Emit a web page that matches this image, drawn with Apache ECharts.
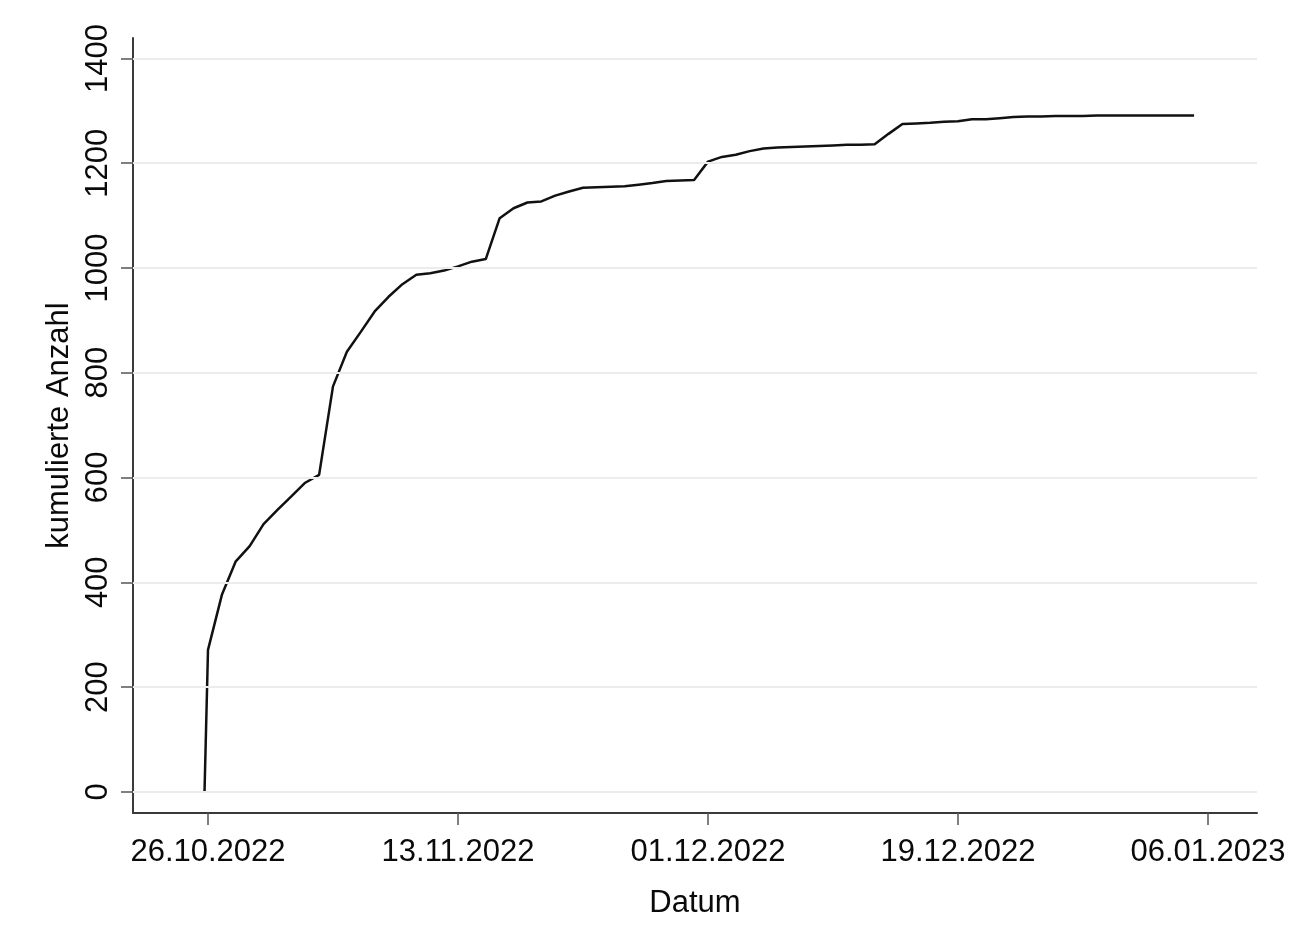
<!DOCTYPE html>
<html>
<head>
<meta charset="utf-8">
<script src="https://cdn.jsdelivr.net/npm/echarts@6/dist/echarts.min.js"></script>
<style>
html,body{margin:0;padding:0;background:#fff;}
#chart{width:1301px;height:938px;}
</style>
</head>
<body>
<div id="chart"></div>
<script>
// Dates of the observations (DD.MM.YYYY, optional HH:MM)
const dates = [
  '25.10.2022 18:00',
  '26.10.2022','27.10.2022','28.10.2022','29.10.2022','30.10.2022','31.10.2022',
  '01.11.2022','02.11.2022','03.11.2022','04.11.2022','05.11.2022','06.11.2022','07.11.2022',
  '08.11.2022','09.11.2022','10.11.2022','11.11.2022','12.11.2022','13.11.2022','14.11.2022',
  '15.11.2022','16.11.2022','17.11.2022','18.11.2022','19.11.2022','20.11.2022','21.11.2022',
  '22.11.2022','23.11.2022','24.11.2022','25.11.2022','26.11.2022','27.11.2022','28.11.2022',
  '29.11.2022','30.11.2022','01.12.2022','02.12.2022','03.12.2022','04.12.2022','05.12.2022',
  '06.12.2022','07.12.2022','08.12.2022','09.12.2022','10.12.2022','11.12.2022','12.12.2022',
  '13.12.2022','14.12.2022','15.12.2022','16.12.2022','17.12.2022','18.12.2022','19.12.2022',
  '20.12.2022','21.12.2022','22.12.2022','23.12.2022','24.12.2022','25.12.2022','26.12.2022',
  '27.12.2022','28.12.2022','29.12.2022','30.12.2022','31.12.2022','01.01.2023','02.01.2023',
  '03.01.2023','04.01.2023','05.01.2023'
];
// Cumulative count
const kumuliert = [
  0,
  271,376,440,469,511,538,
  564,590,605,774,840,878,917,
  945,969,987,990,995,1003,1012,
  1017,1095,1114,1125,1127,1138,1146,
  1153,1154,1155,1156,1159,1162,1166,
  1167,1168,1203,1212,1216,1223,1228,
  1230,1231,1232,1233,1234,1235,1235,
  1236,1256,1275,1276,1277,1279,1280,
  1284,1284,1286,1288,1289,1289,1290,
  1290,1290,1291,1291,1291,1291,1291,
  1291,1291,1291
];
const xTickLabels = ['26.10.2022','13.11.2022','01.12.2022','19.12.2022','06.01.2023'];
const yTickValues = [0,200,400,600,800,1000,1200,1400];

const BASE = Date.UTC(2022, 9, 26);
function toDay(s) {
  const parts = s.split(' ');
  const [d, m, y] = parts[0].split('.').map(Number);
  let h = 0, mi = 0;
  if (parts[1]) { [h, mi] = parts[1].split(':').map(Number); }
  return (Date.UTC(y, m - 1, d, h, mi) - BASE) / 86400000;
}
const xTickValues = xTickLabels.map(toDay);
const labelByDay = {};
xTickLabels.forEach((l, i) => { labelByDay[xTickValues[i]] = l; });
const seriesData = dates.map((d, i) => [toDay(d), kumuliert[i]]);

const FONT = '"Liberation Sans", Arial, sans-serif';
const chart = echarts.init(document.getElementById('chart'), null, {renderer: 'canvas'});
chart.setOption({
  animation: false,
  backgroundColor: '#fff',
  grid: {left: 133, right: 44, top: 38, bottom: 125, containLabel: false},
  xAxis: {
    type: 'value',
    min: -5.4,
    max: 75.53,
    name: 'Datum',
    nameLocation: 'middle',
    nameGap: 75,
    nameTextStyle: {fontFamily: FONT, fontSize: 31, color: '#0a0a0a'},
    axisLine: {show: true, onZero: false, lineStyle: {color: '#3a3a3a', width: 2}},
    axisTick: {show: true, length: 12, customValues: xTickValues, lineStyle: {color: '#555', width: 1.5}},
    axisLabel: {
      customValues: xTickValues,
      margin: 24,
      fontFamily: FONT, fontSize: 31, color: '#0a0a0a',
      formatter: v => labelByDay[v] || ''
    },
    splitLine: {show: false}
  },
  yAxis: {
    type: 'value',
    min: -40.5,
    max: 1439,
    name: 'kumulierte Anzahl',
    nameLocation: 'middle',
    nameGap: 54,
    nameTextStyle: {fontFamily: FONT, fontSize: 31, color: '#0a0a0a'},
    axisLine: {show: true, onZero: false, lineStyle: {color: '#3a3a3a', width: 2}},
    axisTick: {show: true, length: 12, customValues: yTickValues, lineStyle: {color: '#555', width: 1.5}},
    axisLabel: {
      customValues: yTickValues,
      rotate: 90,
      margin: 19,
      fontFamily: FONT, fontSize: 31, color: '#0a0a0a',
      formatter: v => String(v)
    },
    splitLine: {show: false}
  },
  series: [
    {
      type: 'line',
      data: [],
      z: 1,
      silent: true,
      markLine: {
        silent: true,
        symbol: 'none',
        animation: false,
        label: {show: false},
        lineStyle: {color: '#ececec', type: 'solid', width: 2},
        emphasis: {disabled: true},
        data: yTickValues.map(v => ({yAxis: v}))
      }
    },
    {
      type: 'line',
      data: seriesData,
      z: 3,
      showSymbol: false,
      symbol: 'none',
      lineStyle: {color: '#111', width: 2.5},
      silent: true
    }
  ]
});
</script>
</body>
</html>
